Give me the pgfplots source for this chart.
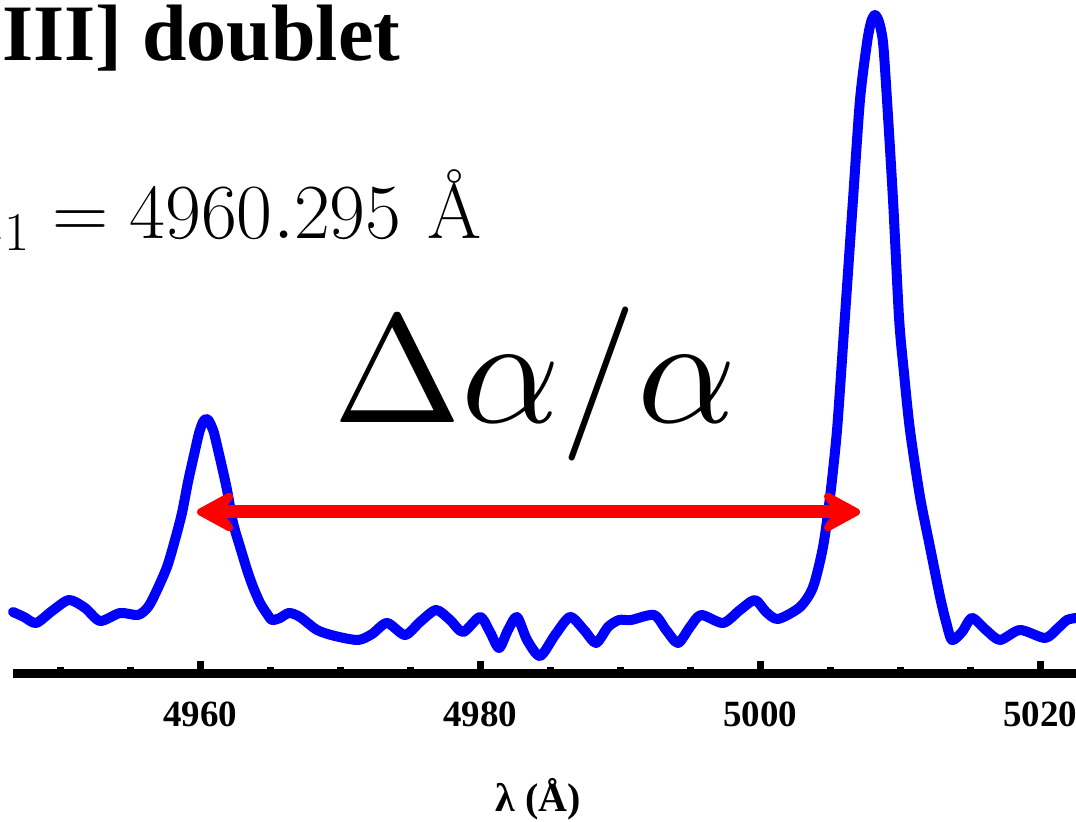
\RequirePackage{fix-cm}
\documentclass[border=0pt]{standalone}
\usepackage{pgfplots}
\pgfplotsset{compat=1.18}
\usepackage{fontspec}
\newfontfamily\timesfont{Liberation Serif}
\usetikzlibrary{arrows.meta}
\definecolor{specblue}{RGB}{0,0,255}
\definecolor{arrred}{RGB}{255,0,0}
\begin{document}
\begin{tikzpicture}
\begin{axis}[
  name=ax,
  scale only axis,
  width=531.5pt, height=337pt,
  xmin=4946.64, xmax=5022.57,
  ymin=0, ymax=674,
  clip=false,
  axis x line*=bottom,
  axis y line=none,
  x axis line style={line width=4.5pt, -},
  xtick={4960,4980,5000,5020},
  minor xtick={4950,4955,4965,4970,4975,4985,4990,4995,5005,5010,5015},
  tick align=inside,
  xtick pos=bottom,
  major tick length=6.5pt,
  minor tick length=3.5pt,
  every tick/.style={line width=3.5pt, black},
  /pgf/number format/assume math mode=true,
  /pgf/number format/set thousands separator={},
  xticklabel style={font=\timesfont\bfseries\fontsize{18.5}{20}\selectfont, inner sep=0pt, anchor=base, yshift=-26.5pt},
]
\addplot[specblue, line width=5pt, smooth, tension=0.45, line join=round, line cap=round] coordinates {
(4946.64,62) (4947.43,57) (4948.29,51) (4949.43,63) (4950.64,74) (4951.79,66)
(4952.86,53) (4954.29,61) (4955.57,59) (4956.29,67) (4956.86,82)
(4957.64,107) (4958.21,134) (4958.71,161) (4959.14,192) (4959.57,219) (4959.93,241)
(4960.21,252) (4960.43,255) (4960.64,253) (4960.93,244) (4961.07,237) (4961.57,207)
(4961.93,184) (4962.36,151) (4962.86,127) (4963.36,104) (4963.79,87) (4964.29,71)
(4964.79,60) (4965.14,54)
(4965.71,56) (4966.36,61) (4967.14,57) (4968.36,44) (4969.64,38) (4971.29,34)
(4972.29,40) (4973.36,51) (4974.64,39) (4975.71,52) (4976.86,64) (4977.86,54)
(4978.79,42) (4980.00,57) (4980.71,42) (4981.36,26) (4982.00,44) (4982.64,57)
(4983.36,34) (4984.29,18) (4985.36,39) (4986.43,57) (4987.43,44) (4988.29,31)
(4989.14,47) (4989.93,54) (4990.79,54) (4992.43,59) (4993.29,44) (4994.14,31)
(4995.00,47) (4995.79,59) (4997.36,51) (4998.57,64) (4999.64,74) (5000.43,62)
(5001.29,55) (5002.86,67) (5003.79,87) (5004.50,127) (5005.00,177) (5005.50,244)
(5006.00,344) (5006.64,474) (5007.14,574) (5007.64,631) (5007.93,652) (5008.21,659)
(5008.50,652) (5008.79,631) (5009.07,574) (5009.50,474) (5009.93,356) (5010.29,300)
(5010.71,244) (5011.43,177) (5012.14,127) (5012.86,77) (5013.29,52) (5013.71,34)
(5014.43,42) (5015.14,56) (5016.14,44) (5017.14,34) (5018.57,44) (5020.36,36)
(5021.29,46) (5021.93,54) (5022.57,56)
};
\draw[arrred, line width=6.5pt,
  {Stealth[length=24pt, width=26pt, inset=9pt, round]}-{Stealth[length=24pt, width=26pt, inset=9pt, round]}]
  (axis cs:4959.79,162) -- (axis cs:5007.14,162);
\node[anchor=base, inner sep=0pt, scale=7.7] at (axis cs:4983.93,251)
  {\fontsize{10}{12}\selectfont$\Delta\alpha/\alpha$};
\node[anchor=base east, inner sep=0pt] at (axis cs:4980.14,435)
  {\fontsize{39}{44}\selectfont$\lambda_1 = 4960.295$\kern 13pt Å};
\node[anchor=base west, inner sep=0pt] at (axis cs:4945.857,613)
  {\timesfont\bfseries\fontsize{40}{44}\selectfont III] doublet};
\node[anchor=base, inner sep=0pt] at (axis cs:4984.14,-138)
  {\timesfont\bfseries\fontsize{20}{22}\selectfont λ (Å)};
\end{axis}
\pgfresetboundingbox
\path[use as bounding box] ([xshift=-6.5pt,yshift=-74pt]ax.south west) rectangle (ax.north east);
\end{tikzpicture}
\end{document}
